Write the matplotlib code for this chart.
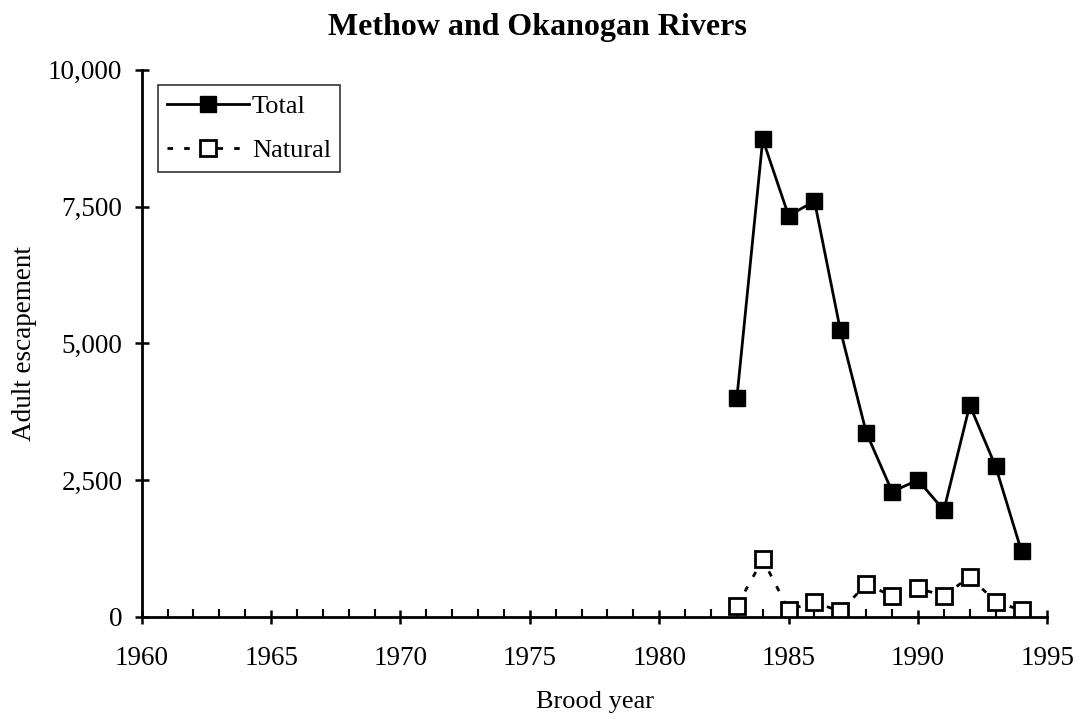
import matplotlib.pyplot as plt
from matplotlib.ticker import MultipleLocator, FuncFormatter

years = [1983, 1984, 1985, 1986, 1987, 1988, 1989, 1990, 1991, 1992, 1993, 1994]
total = [4000, 8730, 7330, 7600, 5240, 3370, 2290, 2500, 1950, 3870, 2750, 1200]
natural = [200, 1050, 130, 270, 100, 600, 380, 520, 390, 730, 280, 120]

x_ticks = [1960, 1965, 1970, 1975, 1980, 1985, 1990, 1995]
y_ticks = [0, 2500, 5000, 7500, 10000]

plt.rcParams['font.family'] = ['Liberation Serif', 'DejaVu Serif']

fig = plt.figure(figsize=(10.82, 7.19), dpi=100)
ax = fig.add_axes([0.131, 0.142, 0.837, 0.761])

ax.plot(years, total, '-', color='black', linewidth=2.0, marker='s',
        markersize=12, markerfacecolor='black', label='Total')
ax.plot(years, natural, color='black', linewidth=2.0, linestyle=(0, (2, 4)),
        marker='s', markersize=11, markerfacecolor='white',
        markeredgewidth=2.0, label='Natural')

ax.set_xlim(1960, 1995)
ax.set_ylim(0, 10000)
ax.set_xticks(x_ticks)
ax.xaxis.set_minor_locator(MultipleLocator(1))
ax.set_yticks(y_ticks)
ax.yaxis.set_major_formatter(FuncFormatter(lambda v, p: f'{int(v):,}'))

for side in ['top', 'right']:
    ax.spines[side].set_visible(False)
for side in ['left', 'bottom']:
    ax.spines[side].set_linewidth(2.0)

ax.tick_params(axis='both', which='major', direction='inout', length=10,
               width=1.8, labelsize=19.5)
ax.tick_params(axis='x', which='major', pad=16)
ax.tick_params(axis='y', which='major', pad=9)
ax.tick_params(axis='x', which='minor', direction='in', length=6, width=1.5)

fig.suptitle('Methow and Okanogan Rivers', x=0.497, y=0.982, fontsize=23,
             fontweight='bold', va='top')
ax.set_xlabel('Brood year', fontsize=19, labelpad=14)
ax.set_ylabel('Adult escapement', fontsize=19.5, labelpad=8)

leg = ax.legend(loc='upper left', bbox_to_anchor=(0.018, 0.972), fontsize=19,
                frameon=True, fancybox=False, edgecolor='black',
                handlelength=3.1, borderpad=0.35, labelspacing=0.8,
                handletextpad=0.1, borderaxespad=0)
leg.get_frame().set_linewidth(1.2)

fig.savefig('out.png', dpi=100)
